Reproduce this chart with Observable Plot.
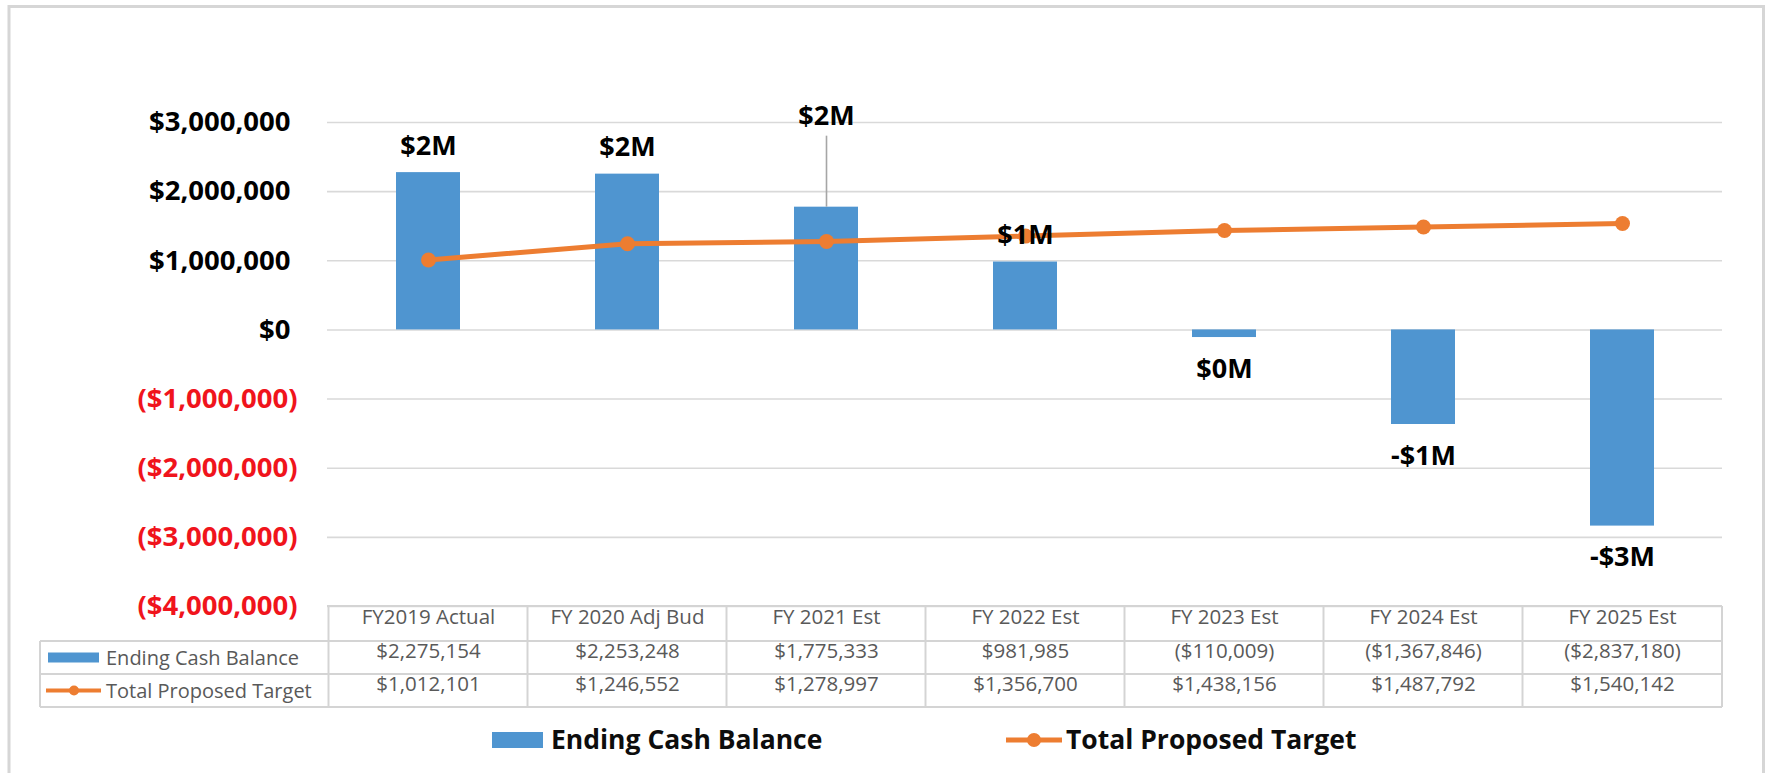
<!DOCTYPE html>
<html><head><meta charset="utf-8">
<script src="https://cdn.jsdelivr.net/npm/d3@7"></script>
<script src="https://cdn.jsdelivr.net/npm/@observablehq/plot@0.6"></script>
<style>html,body{margin:0;padding:0;background:#fff;overflow:hidden;} #chart{width:1766px;height:773px;overflow:hidden;}</style>
</head><body><div id="chart"></div>
<script>
const categories = ["FY2019 Actual","FY 2020 Adj Bud","FY 2021 Est","FY 2022 Est","FY 2023 Est","FY 2024 Est","FY 2025 Est"];
const endingCash = [2275154, 2253248, 1775333, 981985, -110009, -1367846, -2837180];
const proposedTarget = [1012101, 1246552, 1278997, 1356700, 1438156, 1487792, 1540142];
const yTicks = [3000000, 2000000, 1000000, 0, -1000000, -2000000, -3000000, -4000000];
const seriesNames = ["Ending Cash Balance", "Total Proposed Target"];

const BLUE = "#4f95d0", ORANGE = "#ed7d31", RED = "#f0141c", GRID = "#d9d9d9", GRAY = "#595959";
const FONT = "'Open Sans', 'Noto Sans', sans-serif";

const rows = categories.map((cat, i) => ({cat, i, cash: endingCash[i], target: proposedTarget[i]}));
const money = d3.format("$,");
const fmtTable = v => v < 0 ? "(" + money(-v) + ")" : money(v);
const fmtAxis = v => v < 0 ? "(" + money(-v) + ")" : money(v);
const fmtLabel = v => { const r = Math.round(v / 1e6); return (r < 0 ? "-" : "") + "$" + Math.abs(r) + "M"; };

const W = 1766, H = 773;
const TABLE_FS = 20.5;
const chart = Plot.plot({
  width: W, height: H,
  marginLeft: 327, marginRight: 44, marginTop: 122, marginBottom: 167,
  style: {fontFamily: FONT, background: "white", overflow: "hidden"},
  x: {domain: categories, paddingInner: 0.68, paddingOuter: 0.34, axis: null},
  y: {domain: [-4000000, 3000000], axis: null},
  marks: [
    Plot.ruleY(yTicks, {stroke: GRID, strokeWidth: 1.6}),
    Plot.text(yTicks.filter(d => d >= 0), {y: d => d, text: fmtAxis, frameAnchor: "left", dx: -37, textAnchor: "end", fill: "#000", fontSize: 27.5, fontWeight: 700}),
    Plot.text(yTicks.filter(d => d < 0), {y: d => d, text: fmtAxis, frameAnchor: "left", dx: -30, textAnchor: "end", fill: RED, fontSize: 27.5, fontWeight: 700}),
    Plot.barY(rows, {x: "cat", y: "cash", fill: BLUE}),
    Plot.ruleX(rows.filter(d => d.i === 2), {x: "cat", y1: "cash", y2: "cash", insetTop: -71, stroke: "#a6a6a6", strokeWidth: 1.6}),
    Plot.line(rows, {x: "cat", y: "target", stroke: ORANGE, strokeWidth: 5}),
    Plot.dot(rows, {x: "cat", y: "target", r: 7.5, fill: ORANGE}),
    Plot.text(rows.filter(d => d.cash >= 0 && d.i !== 2), {x: "cat", y: "cash", text: d => fmtLabel(d.cash), lineAnchor: "bottom", dy: -18, fontSize: 27, fontWeight: 700, fill: "#000"}),
    Plot.text(rows.filter(d => d.i === 2), {x: "cat", y: "cash", text: d => fmtLabel(d.cash), lineAnchor: "bottom", dy: -82, fontSize: 27, fontWeight: 700, fill: "#000"}),
    Plot.text(rows.filter(d => d.cash < 0), {x: "cat", y: "cash", text: d => fmtLabel(d.cash), lineAnchor: "top", dy: 21, fontSize: 27, fontWeight: 700, fill: "#000"}),
    // data table cells
    Plot.text(rows, {x: "cat", text: "cat", frameAnchor: "bottom", dy: 17.5, fill: GRAY, fontSize: TABLE_FS}),
    Plot.text(rows, {x: "cat", text: d => fmtTable(d.cash), frameAnchor: "bottom", dy: 51, fill: GRAY, fontSize: TABLE_FS}),
    Plot.text(rows, {x: "cat", text: d => fmtTable(d.target), frameAnchor: "bottom", dy: 84, fill: GRAY, fontSize: TABLE_FS})
  ]
});
document.getElementById("chart").append(chart);

const svg = d3.select(chart);
const xs = chart.scale("x"), ys = chart.scale("y");
const step = xs.step, bw = xs.bandwidth;
const tableTop = ys.apply(-4000000);
const plotLeft = 327, plotRight = W - 44, labelLeft = 40;
const rowY = [tableTop, tableTop + 35, tableTop + 68, tableTop + 101];
const g = svg.append("g").attr("stroke", "#d4d4d4").attr("stroke-width", 2).attr("fill", "none");
g.append("line").attr("x1", plotLeft).attr("x2", plotRight).attr("y1", rowY[0]).attr("y2", rowY[0]);
for (let k = 1; k < 4; k++) g.append("line").attr("x1", labelLeft).attr("x2", plotRight).attr("y1", rowY[k]).attr("y2", rowY[k]);
g.append("line").attr("x1", labelLeft).attr("x2", labelLeft).attr("y1", rowY[1]).attr("y2", rowY[3]);
categories.forEach(c => {
  const x0 = xs.apply(c) + bw / 2 - step / 2;
  g.append("line").attr("x1", x0).attr("x2", x0).attr("y1", rowY[0]).attr("y2", rowY[3]);
});
g.append("line").attr("x1", plotRight).attr("x2", plotRight).attr("y1", rowY[0]).attr("y2", rowY[3]);

// row labels with keys
const rl = svg.append("g").attr("font-family", FONT).attr("text-anchor", "start");
const r1 = (rowY[1] + rowY[2]) / 2, r2 = (rowY[2] + rowY[3]) / 2;
rl.append("rect").attr("x", 48).attr("y", r1 - 5).attr("width", 51).attr("height", 10).attr("fill", BLUE);
rl.append("line").attr("x1", 46).attr("x2", 101).attr("y1", r2).attr("y2", r2).attr("stroke", ORANGE).attr("stroke-width", 4);
rl.append("circle").attr("cx", 74).attr("cy", r2).attr("r", 5).attr("fill", ORANGE);
rl.append("text").attr("x", 106).attr("y", r1).attr("dy", "0.35em").attr("font-size", 20).attr("fill", GRAY).text(seriesNames[0]);
rl.append("text").attr("x", 106).attr("y", r2).attr("dy", "0.35em").attr("font-size", 20).attr("fill", GRAY).text(seriesNames[1]);

// legend
const lg = svg.append("g").attr("font-family", FONT).attr("font-weight", 700).attr("font-size", 26.5).attr("fill", "#0d0d0d").attr("text-anchor", "start");
const ly = 740;
lg.append("rect").attr("x", 492).attr("y", ly - 8).attr("width", 51).attr("height", 16).attr("fill", BLUE);
lg.append("text").attr("x", 551).attr("y", ly).attr("dy", "0.35em").text(seriesNames[0]);
lg.append("line").attr("x1", 1006).attr("x2", 1062).attr("y1", ly).attr("y2", ly).attr("stroke", ORANGE).attr("stroke-width", 5);
lg.append("circle").attr("cx", 1034).attr("cy", ly).attr("r", 7).attr("fill", ORANGE);
lg.append("text").attr("x", 1066).attr("y", ly).attr("dy", "0.35em").text(seriesNames[1]);

// outer chart border (left, top, right)
svg.append("path").attr("d", `M9,${H} V6.5 H1763.5 V${H}`).attr("fill", "none").attr("stroke", "#d6d6d6").attr("stroke-width", 3);
</script></body></html>
